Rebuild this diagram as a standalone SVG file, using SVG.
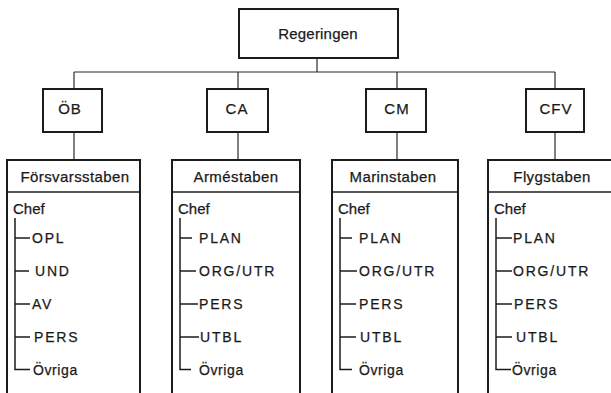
<svg xmlns="http://www.w3.org/2000/svg" width="611" height="393" viewBox="0 0 611 393">
  <style>
    .box { fill: #ffffff; stroke: #1c1c1c; stroke-width: 2; }
    .rule { stroke: #1c1c1c; stroke-width: 1.5; fill: none; }
    .conn { stroke: #2a2a2a; stroke-width: 1.2; fill: none; }
    text { stroke: #1a1a1a; stroke-width: 0.25; }
    .lbl { font-family: "Liberation Sans", Arial, sans-serif; font-size: 15px; fill: #1a1a1a; text-anchor: middle; }
    .code { letter-spacing: 1px; }
    .head { letter-spacing: 0.4px; }
    .chef { font-family: "Liberation Sans", Arial, sans-serif; font-size: 15px; fill: #1a1a1a; }
    .item { font-family: "Liberation Sans", Arial, sans-serif; font-size: 14px; fill: #1a1a1a; letter-spacing: 1.8px; }
    .misc { letter-spacing: 0.6px; }
  </style>
  <rect width="611" height="393" fill="#ffffff"/>

  <!-- connectors -->
  <g id="connectors">
    <line class="conn" x1="317" y1="58" x2="317" y2="72"/>
    <line class="conn" x1="74" y1="72" x2="555" y2="72"/>
    <line class="conn" x1="74" y1="72" x2="74" y2="89"/>
    <line class="conn" x1="238" y1="72" x2="238" y2="89"/>
    <line class="conn" x1="397" y1="72" x2="397" y2="89"/>
    <line class="conn" x1="555" y1="72" x2="555" y2="89"/>
    <line class="conn" x1="74" y1="132" x2="74" y2="160"/>
    <line class="conn" x1="238" y1="132" x2="238" y2="160"/>
    <line class="conn" x1="397" y1="132" x2="397" y2="160"/>
    <line class="conn" x1="555" y1="132" x2="555" y2="160"/>
  </g>

  <!-- top level -->
  <g id="regeringen">
    <rect class="box" x="239" y="9" width="159" height="49"/>
    <text class="lbl" x="318" y="38.5" style="letter-spacing:0.2px">Regeringen</text>
  </g>

  <!-- commanders -->
  <g id="ob">
    <rect class="box" x="43" y="89" width="59" height="43"/>
    <text class="lbl code" x="70" y="114">ÖB</text>
  </g>
  <g id="ca">
    <rect class="box" x="207" y="89" width="61" height="43"/>
    <text class="lbl code" x="237" y="114">CA</text>
  </g>
  <g id="cm">
    <rect class="box" x="366" y="89" width="60" height="43"/>
    <text class="lbl code" x="397" y="114">CM</text>
  </g>
  <g id="cfv">
    <rect class="box" x="526" y="89" width="58" height="43"/>
    <text class="lbl code" x="556" y="114">CFV</text>
  </g>

  <!-- Försvarsstaben -->
  <g id="forsvarsstaben">
    <rect class="box" x="7" y="160" width="133" height="245"/>
    <line class="rule" x1="7" y1="192" x2="140" y2="192"/>
    <text class="lbl head" x="75" y="182">Försvarsstaben</text>
    <text class="chef" x="13" y="214">Chef</text>
    <path class="rule" d="M15 218 V369.5 H30 M15 238 H30 M15 271 H29 M15 304 H30 M15 337 H30"/>
    <text class="item" x="32" y="243">OPL</text>
    <text class="item" x="35" y="276">UND</text>
    <text class="item" x="32" y="309">AV</text>
    <text class="item" x="34" y="342">PERS</text>
    <text class="item misc" x="33" y="375">Övriga</text>
  </g>

  <!-- Arméstaben -->
  <g id="armestaben">
    <rect class="box" x="172" y="160" width="128" height="245"/>
    <line class="rule" x1="172" y1="192" x2="300" y2="192"/>
    <text class="lbl head" x="236" y="182">Arméstaben</text>
    <text class="chef" x="178" y="214">Chef</text>
    <path class="rule" d="M180 218 V369.5 H191 M180 238 H192 M180 271 H196 M180 304 H198 M180 337 H199"/>
    <text class="item" x="199" y="243">PLAN</text>
    <text class="item" x="199" y="276">ORG/UTR</text>
    <text class="item" x="199" y="309">PERS</text>
    <text class="item" x="200" y="342">UTBL</text>
    <text class="item misc" x="199" y="375">Övriga</text>
  </g>

  <!-- Marinstaben -->
  <g id="marinstaben">
    <rect class="box" x="332" y="160" width="126" height="245"/>
    <line class="rule" x1="332" y1="192" x2="458" y2="192"/>
    <text class="lbl head" x="393" y="182">Marinstaben</text>
    <text class="chef" x="338" y="214">Chef</text>
    <path class="rule" d="M340 218 V369.5 H352 M340 238 H352 M340 271 H357 M340 304 H356 M340 337 H356"/>
    <text class="item" x="359" y="243">PLAN</text>
    <text class="item" x="359" y="276">ORG/UTR</text>
    <text class="item" x="359" y="309">PERS</text>
    <text class="item" x="360" y="342">UTBL</text>
    <text class="item misc" x="359" y="375">Övriga</text>
  </g>

  <!-- Flygstaben -->
  <g id="flygstaben">
    <rect class="box" x="488" y="160" width="132" height="245"/>
    <line class="rule" x1="488" y1="192" x2="620" y2="192"/>
    <text class="lbl head" x="552" y="182">Flygstaben</text>
    <text class="chef" x="494" y="214">Chef</text>
    <path class="rule" d="M496 218 V369.5 H511 M496 238 H512 M496 271 H512 M496 304 H512 M496 337 H512"/>
    <text class="item" x="513" y="243">PLAN</text>
    <text class="item" x="513" y="276">ORG/UTR</text>
    <text class="item" x="514" y="309">PERS</text>
    <text class="item" x="516" y="342">UTBL</text>
    <text class="item misc" x="512" y="375">Övriga</text>
  </g>
</svg>
